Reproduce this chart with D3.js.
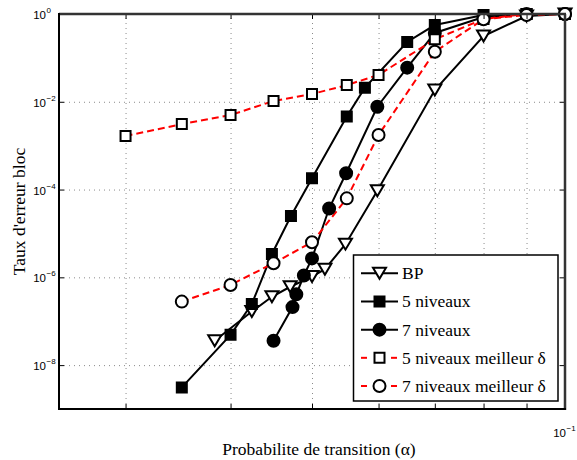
<!DOCTYPE html>
<html>
<head>
<meta charset="utf-8">
<script src="https://cdn.jsdelivr.net/npm/d3@7/dist/d3.min.js"></script>
<style>
  html, body { margin: 0; padding: 0; background: #fff; }
  svg { display: block; }
</style>
</head>
<body>
<svg id="chart" width="577" height="460"></svg>
<script>
// ---------------- data ----------------
const bpX    = [0.0383, 0.0424, 0.0448, 0.0471, 0.0500, 0.0518, 0.0548, 0.0598, 0.070, 0.080, 0.090, 0.100];
const bpY    = [3.6e-8, 1.66e-7, 3.6e-7, 6.1e-7, 1.04e-6, 1.53e-6, 5.7e-6, 9.4e-5, 1.85e-2, 0.315, 0.90, 1.0];

const n5X    = [0.035, 0.040, 0.0424, 0.0448, 0.0472, 0.050, 0.055, 0.0578, 0.0649, 0.070, 0.080, 0.090, 0.100];
const n5Y    = [3.1e-9, 4.9e-8, 2.47e-7, 3.4e-6, 2.5e-5, 1.8e-4, 4.6e-3, 2.1e-2, 0.23, 0.56, 0.95, 1.0, 1.0];

const n7X    = [0.0450, 0.0474, 0.0479, 0.0489, 0.0500, 0.0524, 0.0549, 0.0598, 0.0649, 0.070, 0.080, 0.090, 0.100];
const n7Y    = [3.6e-8, 2.1e-7, 4.1e-7, 1.1e-6, 2.7e-6, 3.7e-5, 2.35e-4, 7.7e-3, 6.0e-2, 0.37, 0.85, 1.0, 1.0];

const b5X    = [0.030, 0.035, 0.040, 0.045, 0.050, 0.055, 0.060, 0.070, 0.080, 0.090, 0.100];
const b5Y    = [1.66e-3, 3.1e-3, 5.0e-3, 1.04e-2, 1.5e-2, 2.4e-2, 4.1e-2, 0.265, 0.77, 1.0, 1.0];

const b7X    = [0.035, 0.040, 0.045, 0.050, 0.055, 0.060, 0.070, 0.080, 0.090, 0.100];
const b7Y    = [2.8e-7, 6.7e-7, 2.1e-6, 6.3e-6, 6.3e-5, 1.75e-3, 0.138, 0.76, 0.95, 1.0];

const seriesNames = ["BP", "5 niveaux", "7 niveaux", "5 niveaux meilleur δ", "7 niveaux meilleur δ"];
const xGridTicks  = [0.03, 0.04, 0.05, 0.06, 0.07, 0.08, 0.09];
const xLabelTicks = [0.1];
const xLabelExp   = ["−1"];
const yMajorTicks = [1, 1e-2, 1e-4, 1e-6, 1e-8];
const yLabelExp   = ["0", "−2", "−4", "−6", "−8"];
const xTitle = "Probabilite de transition (α)";
const yTitle = "Taux d'erreur bloc";

// ---------------- layout ----------------
const L = 59, R = 565, T = 14, B = 409;
const svg = d3.select("#chart");
const x = d3.scaleLog().domain([0.025, 0.1]).range([L, R]);
const y = d3.scaleLog().domain([1e-9, 1]).range([B, T]);
const serif = "'Liberation Serif', 'Times New Roman', serif";
const sans  = "'Liberation Sans', Arial, Helvetica, sans-serif";
const serifSize = 17.5;

// grid (dotted)
const gridG = svg.append("g");
gridG.append("g").attr("transform", `translate(0,${B})`)
  .call(d3.axisBottom(x).tickValues(xGridTicks).tickSize(-(B - T)).tickFormat(""))
  .call(g => { g.select(".domain").remove();
    g.selectAll("line").attr("stroke", "#8a8a8a").attr("stroke-width", 1).attr("stroke-dasharray", "1,4"); });
gridG.append("g").attr("transform", `translate(${L},0)`)
  .call(d3.axisLeft(y).tickValues(yMajorTicks.slice(1)).tickSize(-(R - L)).tickFormat(""))
  .call(g => { g.select(".domain").remove();
    g.selectAll("line").attr("stroke", "#8a8a8a").attr("stroke-width", 1).attr("stroke-dasharray", "1,4"); });

// ---------------- series ----------------
function zip(xs, ys) { return xs.map((v, i) => [v, ys[i]]); }
const line = d3.line().x(d => x(d[0])).y(d => y(d[1]));

const series = [
  { data: zip(bpX, bpY), color: "#000", dash: null, marker: "tri",    fill: "#fff" },
  { data: zip(n5X, n5Y), color: "#000", dash: null, marker: "square", fill: "#000" },
  { data: zip(n7X, n7Y), color: "#000", dash: null, marker: "circle", fill: "#000" },
  { data: zip(b5X, b5Y), color: "#ff0000", dash: "7,4", marker: "square", fill: "#fff" },
  { data: zip(b7X, b7Y), color: "#ff0000", dash: "7,4", marker: "circle", fill: "#fff" }
];

function markerPath(type) {
  if (type === "square") return "M-5,-5H5V5H-5Z";
  if (type === "tri") return "M-6.5,-5.5L6.5,-5.5L0,5.5Z";
  return d3.symbol().type(d3.symbolCircle).size(Math.PI * 36)();
}

const plotG = svg.append("g");
series.forEach(s => {
  plotG.append("path").datum(s.data).attr("d", line)
    .attr("fill", "none").attr("stroke", s.color).attr("stroke-width", 2)
    .attr("stroke-dasharray", s.dash);
});
series.forEach(s => {
  plotG.selectAll(null).data(s.data).join("path")
    .attr("transform", d => `translate(${x(d[0])},${y(d[1])})`)
    .attr("d", markerPath(s.marker))
    .attr("fill", s.fill).attr("stroke", "#000").attr("stroke-width", 2);
});

// ---------------- axes / frame ----------------
const axG = svg.append("g");
axG.append("g").attr("transform", `translate(${L},0)`)
  .call(d3.axisLeft(y).tickValues(yMajorTicks).tickSize(-5).tickFormat(""))
  .call(g => { g.select(".domain").remove(); g.selectAll("line").attr("stroke", "#000"); });
axG.append("g").attr("transform", `translate(${R},0)`)
  .call(d3.axisRight(y).tickValues(yMajorTicks).tickSize(-5).tickFormat(""))
  .call(g => { g.select(".domain").remove(); g.selectAll("line").attr("stroke", "#000"); });
axG.append("g").attr("transform", `translate(0,${B})`)
  .call(d3.axisBottom(x).tickValues(xGridTicks.concat(xLabelTicks)).tickSize(-5).tickFormat(""))
  .call(g => { g.select(".domain").remove(); g.selectAll("line").attr("stroke", "#000"); });
axG.append("g").attr("transform", `translate(0,${T})`)
  .call(d3.axisTop(x).tickValues(xGridTicks).tickSize(-5).tickFormat(""))
  .call(g => { g.select(".domain").remove(); g.selectAll("line").attr("stroke", "#000"); });

// frame
axG.append("line").attr("x1", L).attr("x2", R + 1).attr("y1", T).attr("y2", T).attr("stroke", "#333").attr("stroke-width", 2.5);
axG.append("line").attr("x1", R).attr("x2", R).attr("y1", T).attr("y2", B + 1).attr("stroke", "#333").attr("stroke-width", 2.5);
axG.append("line").attr("x1", L).attr("x2", L).attr("y1", T - 1).attr("y2", B + 1).attr("stroke", "#000").attr("stroke-width", 2);
axG.append("line").attr("x1", L - 1).attr("x2", R + 1).attr("y1", B).attr("y2", B).attr("stroke", "#000").attr("stroke-width", 2);

// y tick labels
yMajorTicks.forEach((v, i) => {
  svg.append("text").attr("x", 46).attr("y", y(v) + 5)
    .attr("text-anchor", "end").attr("font-family", sans).attr("font-size", 11.5).attr("fill", "#000").text("10");
  svg.append("text").attr("x", 46.5).attr("y", y(v) - 1)
    .attr("font-family", sans).attr("font-size", 8).attr("fill", "#000").text(yLabelExp[i]);
});
// x tick label
xLabelTicks.forEach((v, i) => {
  svg.append("text").attr("x", x(v) + 1).attr("y", 437)
    .attr("text-anchor", "end").attr("font-family", sans).attr("font-size", 11.5).attr("fill", "#000").text("10");
  svg.append("text").attr("x", x(v) + 1.5).attr("y", 431)
    .attr("font-family", sans).attr("font-size", 8).attr("fill", "#000").text(xLabelExp[i]);
});

// titles
svg.append("text").attr("x", (L + R) / 2 + 7).attr("y", 455).attr("text-anchor", "middle")
  .attr("font-family", serif).attr("font-size", serifSize).attr("fill", "#000").text(xTitle);
svg.append("text").attr("transform", `translate(25,${(T + B) / 2}) rotate(-90)`).attr("text-anchor", "middle")
  .attr("font-family", serif).attr("font-size", serifSize).attr("fill", "#000").text(yTitle);

// ---------------- legend ----------------
const lg = svg.append("g");
lg.append("rect").attr("x", 353.5).attr("y", 255).attr("width", 204.5).attr("height", 146)
  .attr("fill", "#fff").attr("stroke", "#000").attr("stroke-width", 1.5);
const rowY = d3.scaleLinear().domain([0, 4]).range([273.3, 386]);
series.forEach((s, i) => {
  const yy = rowY(i);
  if (s.dash) {
    lg.append("line").attr("x1", 361).attr("x2", 367).attr("y1", yy).attr("y2", yy).attr("stroke", s.color).attr("stroke-width", 2);
    lg.append("line").attr("x1", 391).attr("x2", 397).attr("y1", yy).attr("y2", yy).attr("stroke", s.color).attr("stroke-width", 2);
  } else {
    lg.append("line").attr("x1", 361).attr("x2", 398).attr("y1", yy).attr("y2", yy).attr("stroke", s.color).attr("stroke-width", 2);
  }
  lg.append("path").attr("transform", `translate(379.5,${yy})`).attr("d", markerPath(s.marker))
    .attr("fill", s.fill).attr("stroke", "#000").attr("stroke-width", 2);
  lg.append("text").attr("x", 402).attr("y", yy + 6).attr("font-family", serif).attr("font-size", serifSize)
    .attr("fill", "#000").text(seriesNames[i]);
});
</script>
</body>
</html>
